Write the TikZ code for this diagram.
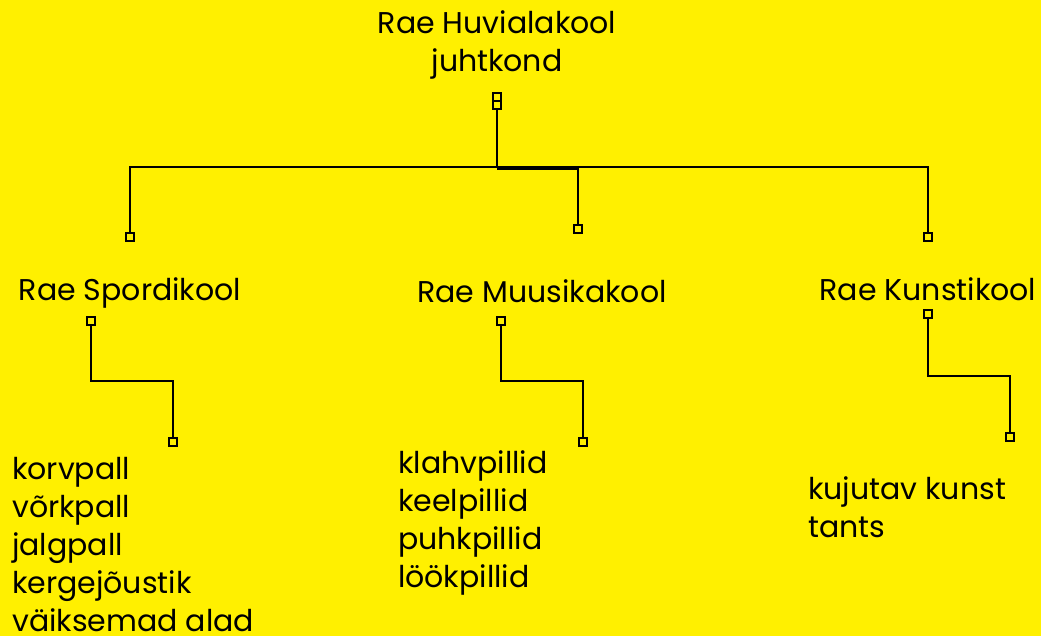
\documentclass[tikz,border=0pt]{standalone}
\usepackage{fontspec}
\setmainfont{Poppins}
\definecolor{bg}{RGB}{255,240,0}
\begin{document}
\begin{tikzpicture}[x=1pt,y=-1pt,
  lbl/.style={inner sep=0pt,font=\fontsize{30}{38}\selectfont},
  lst/.style={inner sep=0pt,align=left,anchor=base west,font=\fontsize{30}{38}\selectfont},
  port/.style={draw=black,line width=1.8pt,fill=bg,rectangle,minimum size=8pt,inner sep=0pt},
  wire/.style={draw=black,line width=2.2pt}]
\fill[bg] (0,0) rectangle (1041,636);
\useasboundingbox (0,0) rectangle (1041,636);
% titles
\node[lbl,anchor=base] (top) at (497,34) {Rae Huvialakool};
\node[lbl,anchor=base] (top2) at (497,72) {juhtkond};
\node[lbl,anchor=base] (sport) at (130,301) {Rae Spordikool};
\node[lbl,anchor=base] (muus) at (542,302) {Rae Muusikakool};
\node[lbl,anchor=base] (kunst) at (928,301) {Rae Kunstikool};
% lists (anchor at baseline of last line)
\node[lst] (slist) at (12,631) {korvpall\\võrkpall\\jalgpall\\kergejõustik\\väiksemad alad};
\node[lst] (mlist) at (398,587) {klahvpillid\\keelpillid\\puhkpillid\\löökpillid};
\node[lst] (klist) at (808,537) {kujutav kunst\\tants};
% connectors top
\coordinate (j) at (497,167);
\coordinate (j2) at (497,169);
\draw[wire] (497,105) -- (j);
\draw[wire] (j) -| (130,237);
\draw[wire] (j) -| (928,237);
\draw[wire] (j2) -| (578,229);
\node[port] (t1) at (497,97) {};
\node[port] (t2) at (497,105) {};
\node[port] (s0) at (130,237) {};
\node[port] (m0) at (578,229) {};
\node[port] (k0) at (928,237) {};
% children
\node[port] (sp) at (91,321) {};
\node[port] (sc) at (173,442) {};
\draw[wire] (sp.south) -- (91,381) -| (sc.north);
\node[port] (mp) at (501,321) {};
\node[port] (mc) at (583,442) {};
\draw[wire] (mp.south) -- (501,381) -| (mc.north);
\node[port] (kp) at (928,314) {};
\node[port] (kc) at (1010,437) {};
\draw[wire] (kp.south) -- (928,376) -| (kc.north);
\end{tikzpicture}
\end{document}
